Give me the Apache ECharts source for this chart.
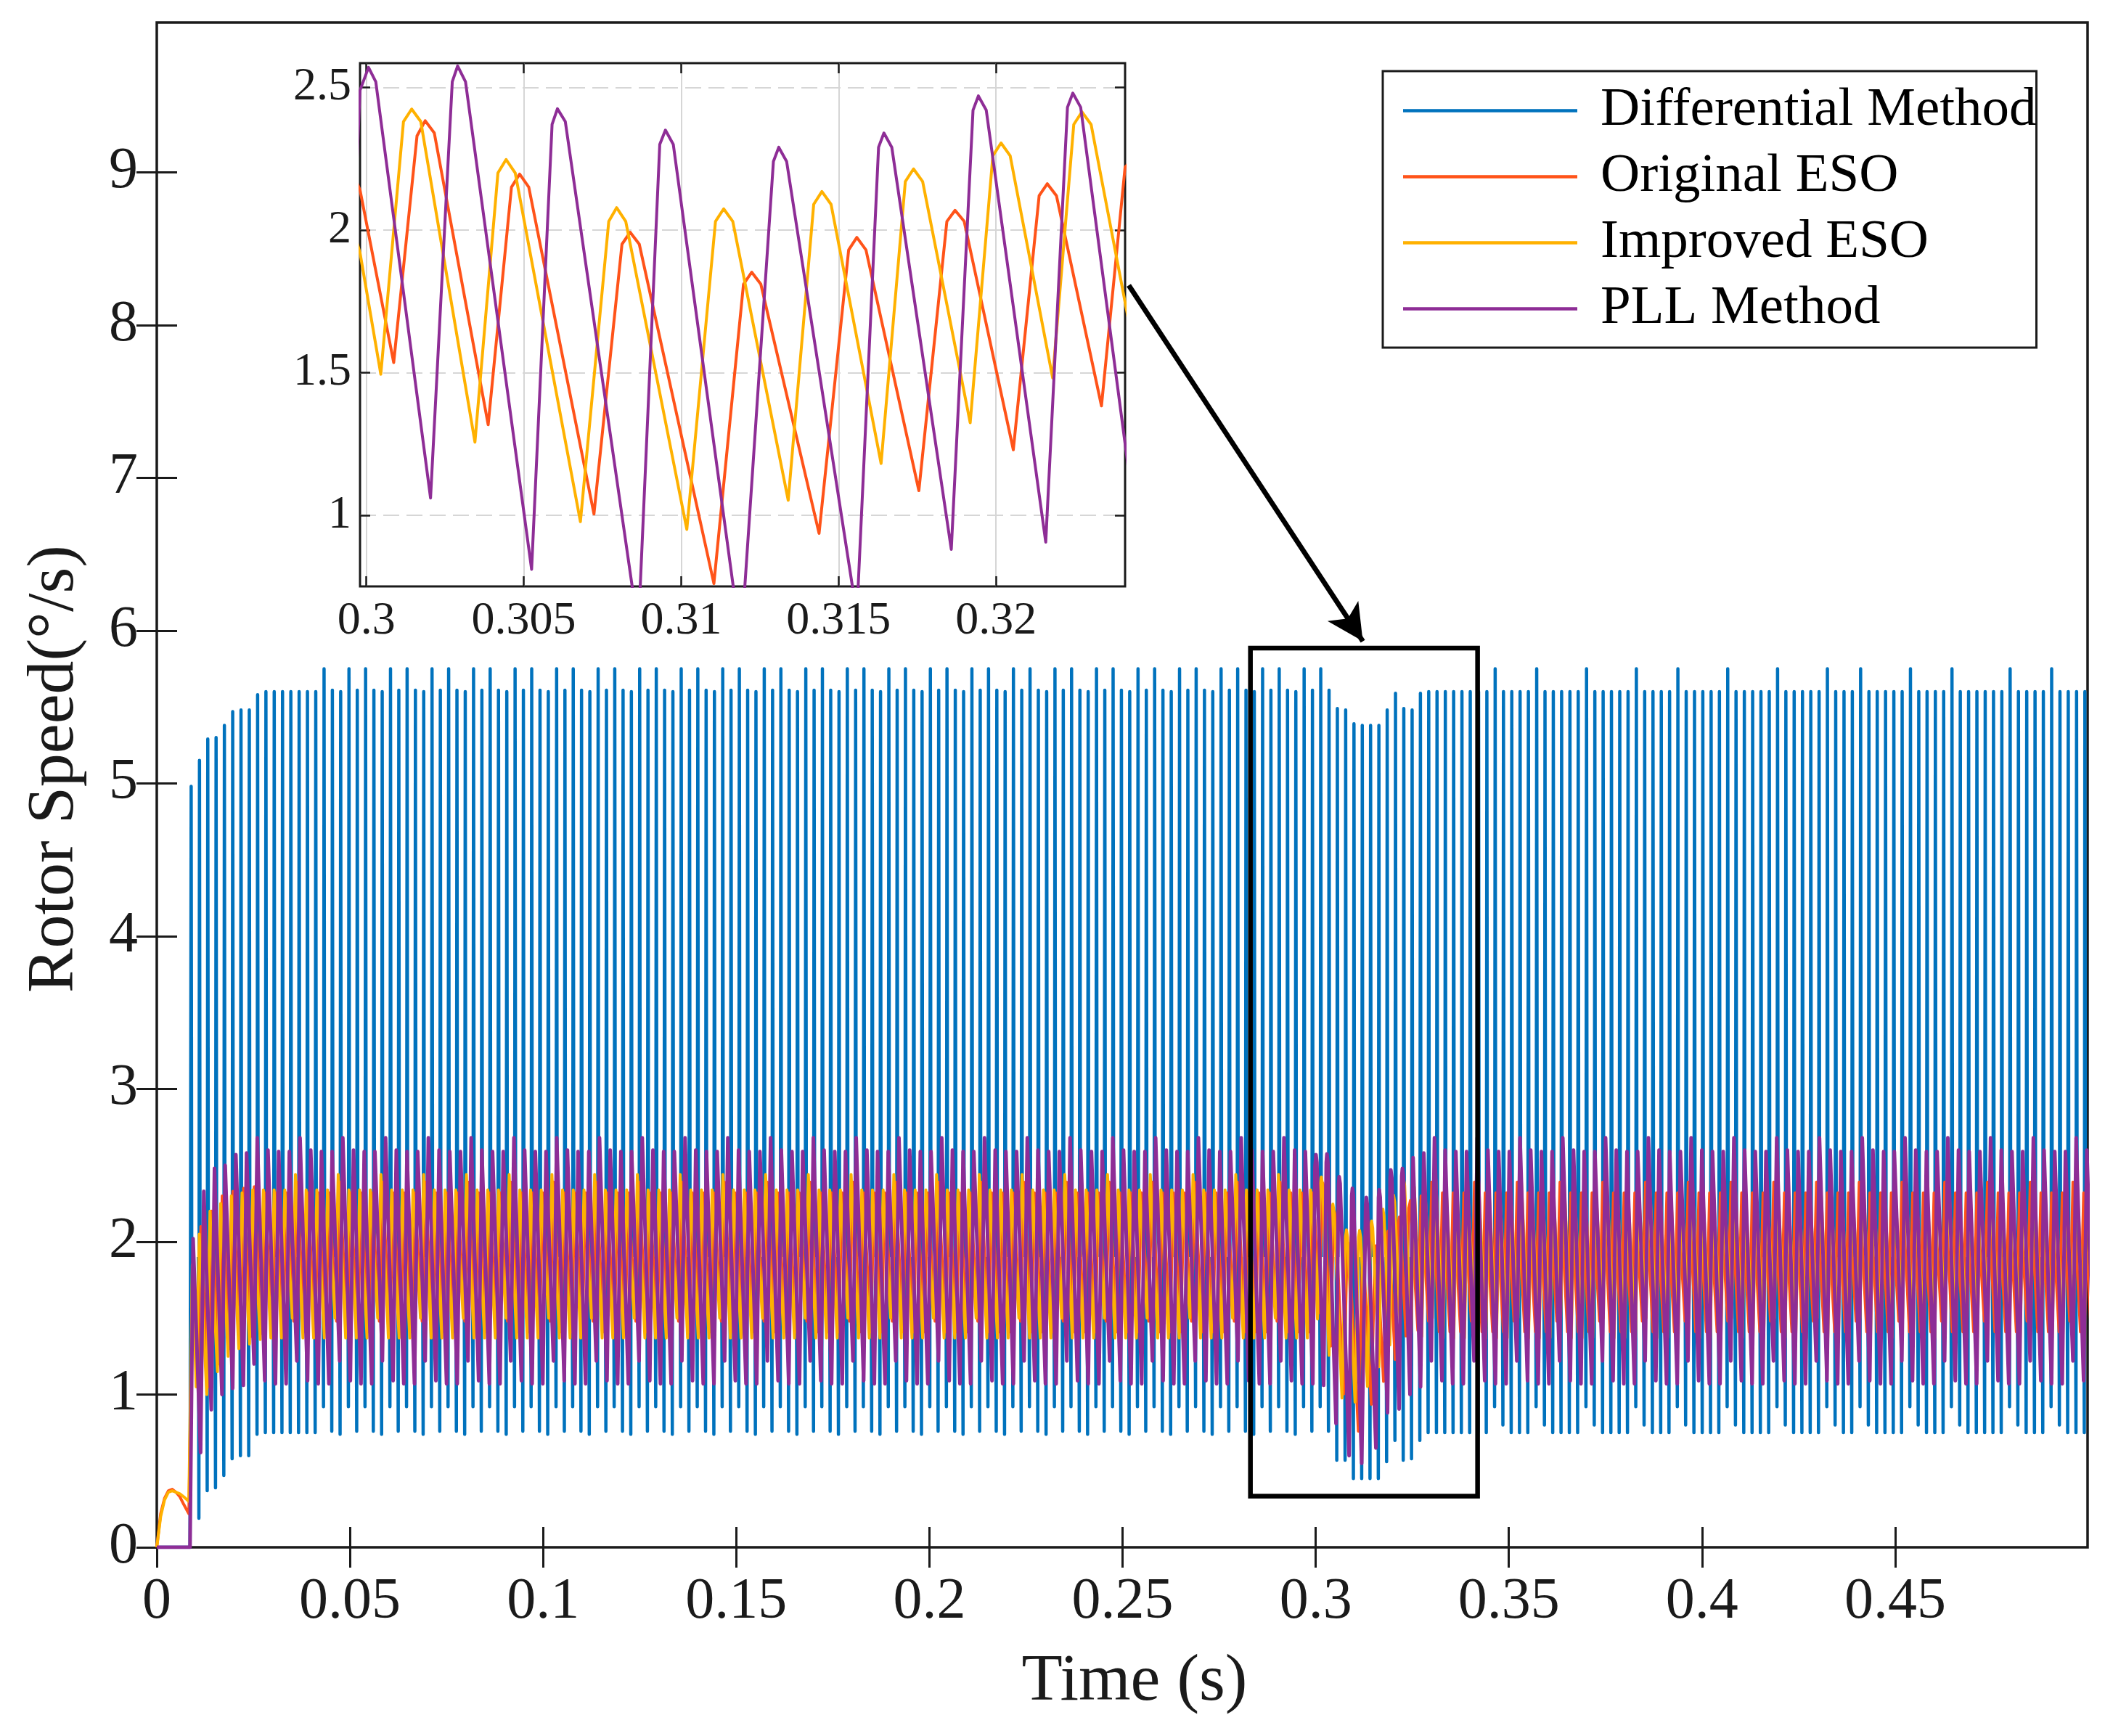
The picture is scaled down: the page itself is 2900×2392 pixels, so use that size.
<!DOCTYPE html>
<html>
<head>
<meta charset="utf-8">
<title>Rotor Speed</title>
<script src="https://cdn.jsdelivr.net/npm/echarts@6.0.0/dist/echarts.min.js"></script>
<style>
  html, body { margin: 0; padding: 0; background: #fff; }
  #chart { width: 2900px; height: 2392px; }
</style>
</head>
<body>
<div id="chart"></div>
<script>
// ---- data ----
const seriesNames = ['Differential Method', 'Original ESO', 'Improved ESO', 'PLL Method'];

const xTicks = [0, 0.05, 0.1, 0.15, 0.2, 0.25, 0.3, 0.35, 0.4, 0.45];
const yTicks = [0, 1, 2, 3, 4, 5, 6, 7, 8, 9];
const insetXTicks = [0.3, 0.305, 0.31, 0.315, 0.32];
const insetYTicks = [1, 1.5, 2, 2.5];

// Differential method: one narrow down/up spike per period, starting and ending inside the band
const blueT0 = 0.0086, bluePeriod = 0.00215, blueStep = 0.00015, blueRest = 1.9;
const bluePeaks = [
  4.98, 5.15, 5.29, 5.30, 5.38, 5.47, 5.48, 5.48, 5.58, 5.60, 5.60, 5.60, 5.60, 5.60, 5.60, 5.60,
  5.75, 5.61, 5.60, 5.75, 5.61, 5.75, 5.61, 5.60, 5.75, 5.61, 5.75, 5.61, 5.60, 5.75, 5.61, 5.75, 5.61, 5.60, 5.75, 5.61,
  5.75, 5.61, 5.60, 5.75, 5.61, 5.75, 5.61, 5.60, 5.75, 5.61, 5.75, 5.61, 5.60, 5.75, 5.61, 5.75, 5.61, 5.60, 5.75, 5.61,
  5.75, 5.61, 5.60, 5.75, 5.61, 5.75, 5.61, 5.60, 5.75, 5.61, 5.75, 5.61, 5.60, 5.75, 5.61, 5.75, 5.61, 5.60, 5.75, 5.61,
  5.75, 5.61, 5.60, 5.75, 5.61, 5.75, 5.61, 5.60, 5.75, 5.61, 5.75, 5.61, 5.60, 5.75, 5.61, 5.75, 5.61, 5.60, 5.75, 5.61,
  5.75, 5.61, 5.60, 5.75, 5.61, 5.75, 5.61, 5.60, 5.75, 5.61, 5.75, 5.61, 5.60, 5.75, 5.61, 5.75, 5.61, 5.60, 5.75, 5.61,
  5.75, 5.61, 5.60, 5.75, 5.61, 5.75, 5.61, 5.60, 5.75, 5.61, 5.75, 5.61, 5.60, 5.75, 5.61, 5.75, 5.61, 5.60, 5.75, 5.61,
  5.75, 5.61,
  5.49, 5.48, 5.39, 5.38, 5.38, 5.38, 5.48, 5.59, 5.49, 5.48, 5.59,
  5.60, 5.60, 5.60, 5.60, 5.60, 5.60, 5.60, 5.60, 5.75, 5.60, 5.60, 5.60, 5.60, 5.75,
  5.60, 5.60, 5.60, 5.60, 5.60, 5.75, 5.60, 5.60, 5.60, 5.60, 5.60, 5.75,
  5.60, 5.60, 5.60, 5.60, 5.75, 5.60, 5.60, 5.60, 5.60, 5.60, 5.75,
  5.60, 5.60, 5.60, 5.60, 5.60, 5.75, 5.60, 5.60, 5.60, 5.60, 5.60, 5.75,
  5.60, 5.60, 5.60, 5.75, 5.60, 5.60, 5.60, 5.60, 5.60, 5.75,
  5.60, 5.60, 5.60, 5.60, 5.75, 5.60, 5.60, 5.60, 5.60, 5.60, 5.60, 5.75,
  5.60, 5.60, 5.60, 5.60, 5.75, 5.60, 5.60, 5.60, 5.60
];
const blueTroughs = [
  0.00, 0.19, 0.37, 0.39, 0.47, 0.58, 0.60, 0.60, 0.74, 0.75, 0.75, 0.75, 0.75, 0.75, 0.75, 0.75,
  0.92, 0.76, 0.74, 0.92, 0.76, 0.92, 0.76, 0.74, 0.92, 0.76, 0.92, 0.76, 0.74, 0.92, 0.76, 0.92, 0.76, 0.74, 0.92, 0.76,
  0.92, 0.76, 0.74, 0.92, 0.76, 0.92, 0.76, 0.74, 0.92, 0.76, 0.92, 0.76, 0.74, 0.92, 0.76, 0.92, 0.76, 0.74, 0.92, 0.76,
  0.92, 0.76, 0.74, 0.92, 0.76, 0.92, 0.76, 0.74, 0.92, 0.76, 0.92, 0.76, 0.74, 0.92, 0.76, 0.92, 0.76, 0.74, 0.92, 0.76,
  0.92, 0.76, 0.74, 0.92, 0.76, 0.92, 0.76, 0.74, 0.92, 0.76, 0.92, 0.76, 0.74, 0.92, 0.76, 0.92, 0.76, 0.74, 0.92, 0.76,
  0.92, 0.76, 0.74, 0.92, 0.76, 0.92, 0.76, 0.74, 0.92, 0.76, 0.92, 0.76, 0.74, 0.92, 0.76, 0.92, 0.76, 0.74, 0.92, 0.76,
  0.92, 0.76, 0.74, 0.92, 0.76, 0.92, 0.76, 0.74, 0.92, 0.76, 0.92, 0.76, 0.74, 0.92, 0.76, 0.92, 0.76, 0.74, 0.92, 0.76,
  0.92, 0.76,
  0.57, 0.57, 0.45, 0.45, 0.45, 0.45, 0.56, 0.70, 0.57, 0.58, 0.70,
  0.75, 0.75, 0.75, 0.75, 0.75, 0.75, 0.75, 0.75, 0.92, 0.80, 0.75, 0.75, 0.75, 0.92,
  0.80, 0.75, 0.75, 0.75, 0.75, 0.92, 0.80, 0.75, 0.75, 0.75, 0.75, 0.92,
  0.80, 0.75, 0.75, 0.75, 0.92, 0.80, 0.75, 0.75, 0.75, 0.75, 0.92,
  0.80, 0.75, 0.75, 0.75, 0.75, 0.92, 0.80, 0.75, 0.75, 0.75, 0.75, 0.92,
  0.80, 0.75, 0.75, 0.92, 0.80, 0.75, 0.75, 0.75, 0.75, 0.92,
  0.80, 0.75, 0.75, 0.75, 0.92, 0.80, 0.75, 0.75, 0.75, 0.75, 0.75, 0.92,
  0.80, 0.75, 0.75, 0.75, 0.92, 0.80, 0.75, 0.75, 0.75
];

// PLL method: start-up, steady cycles before the disturbance, zoomed part, cycles after
const purpleStart = [[0, 0], [0.0086, 0]];
const purpleT0 = 0.0094, purplePeriod = 0.0027684;
const purplePeaksA = [
  2.02, 2.33, 2.48, 2.50, 2.57, 2.58,
  2.68, 2.60, 2.59, 2.59, 2.68, 2.60, 2.59, 2.59, 2.68, 2.60, 2.59, 2.59, 2.68, 2.60, 2.59, 2.59,
  2.68, 2.60, 2.59, 2.59, 2.68, 2.60, 2.59, 2.59, 2.68, 2.60, 2.59, 2.59, 2.68, 2.60, 2.59, 2.59,
  2.68, 2.60, 2.59, 2.59, 2.68, 2.60, 2.59, 2.59, 2.68, 2.60, 2.59, 2.59, 2.68, 2.60, 2.59, 2.59,
  2.68, 2.60, 2.59, 2.59, 2.68, 2.60, 2.59, 2.59, 2.68, 2.60, 2.59, 2.59, 2.68, 2.60, 2.59, 2.59,
  2.68, 2.60, 2.59, 2.59, 2.68, 2.60, 2.59, 2.59, 2.68, 2.60, 2.59, 2.59, 2.68, 2.60, 2.59, 2.59,
  2.68, 2.60, 2.59, 2.59, 2.68, 2.60, 2.59, 2.59, 2.68, 2.60, 2.59, 2.59, 2.68, 2.60, 2.59, 2.59,
  2.68, 2.60, 2.59
];
const purpleTroughsA = [
  0.62, 0.90, 1.00, 1.04, 1.06, 1.20,
  1.09, 1.07, 1.07, 1.22, 1.09, 1.07, 1.07, 1.22, 1.09, 1.07, 1.07, 1.22, 1.09, 1.07, 1.07, 1.22,
  1.09, 1.07, 1.07, 1.22, 1.09, 1.07, 1.07, 1.22, 1.09, 1.07, 1.07, 1.22, 1.09, 1.07, 1.07, 1.22,
  1.09, 1.07, 1.07, 1.22, 1.09, 1.07, 1.07, 1.22, 1.09, 1.07, 1.07, 1.22, 1.09, 1.07, 1.07, 1.22,
  1.09, 1.07, 1.07, 1.22, 1.09, 1.07, 1.07, 1.22, 1.09, 1.07, 1.07, 1.22, 1.09, 1.07, 1.07, 1.22,
  1.09, 1.07, 1.07, 1.22, 1.09, 1.07, 1.07, 1.22, 1.09, 1.07, 1.07, 1.22, 1.09, 1.07, 1.07, 1.22,
  1.09, 1.07, 1.07, 1.22, 1.09, 1.07, 1.07, 1.22, 1.09, 1.07, 1.07, 1.22, 1.09, 1.07, 1.07, 1.22,
  1.09, 1.07, 1.07
];
const purpleZoom = [
  [0.2998, 2.49], [0.30007, 2.57], [0.30030, 2.52], [0.30204, 1.06],
  [0.30273, 2.52], [0.30290, 2.575], [0.30315, 2.52], [0.30525, 0.81],
  [0.30590, 2.37], [0.30607, 2.425], [0.30632, 2.38], [0.30864, 0.60],
  [0.30932, 2.30], [0.30950, 2.35], [0.30975, 2.30], [0.31190, 0.55],
  [0.31293, 2.24], [0.31310, 2.29], [0.31335, 2.24], [0.31558, 0.65],
  [0.31627, 2.29], [0.31644, 2.34], [0.31669, 2.29], [0.31858, 0.88],
  [0.31927, 2.42], [0.31944, 2.47], [0.31969, 2.42], [0.32158, 0.905],
  [0.32227, 2.43], [0.32244, 2.48], [0.32269, 2.43], [0.32440, 1.00]
];
const purpleT1 = 0.3252;
const purplePeaksB = [
  2.55, 2.58,
  2.68, 2.60, 2.59, 2.59, 2.68, 2.60, 2.59, 2.59, 2.68, 2.60, 2.59, 2.59, 2.68, 2.60, 2.59, 2.59,
  2.68, 2.60, 2.59, 2.59, 2.68, 2.60, 2.59, 2.59, 2.68, 2.60, 2.59, 2.59, 2.68, 2.60, 2.59, 2.59,
  2.68, 2.60, 2.59, 2.59, 2.68, 2.60, 2.59, 2.59, 2.68, 2.60, 2.59, 2.59, 2.68, 2.60, 2.59, 2.59,
  2.68, 2.60, 2.59, 2.59, 2.68, 2.60, 2.59, 2.59, 2.68, 2.60, 2.59, 2.59,
  2.68, 2.60
];
const purpleTroughsB = [
  1.05, 1.22,
  1.09, 1.07, 1.07, 1.22, 1.09, 1.07, 1.07, 1.22, 1.09, 1.07, 1.07, 1.22, 1.09, 1.07, 1.07, 1.22,
  1.09, 1.07, 1.07, 1.22, 1.09, 1.07, 1.07, 1.22, 1.09, 1.07, 1.07, 1.22, 1.09, 1.07, 1.07, 1.22,
  1.09, 1.07, 1.07, 1.22, 1.09, 1.07, 1.07, 1.22, 1.09, 1.07, 1.07, 1.22, 1.09, 1.07, 1.07, 1.22,
  1.09, 1.07, 1.07, 1.22, 1.09, 1.07, 1.07, 1.22, 1.09, 1.07, 1.07, 1.22,
  1.09, 1.07
];

// Improved ESO
const yellowStart = [
  [0, 0], [0.001, 0.20], [0.002, 0.31], [0.003, 0.36], [0.004, 0.37], [0.005, 0.36],
  [0.006, 0.35], [0.007, 0.33], [0.0083, 0.30], [0.0092, 1.85], [0.0102, 1.05]
];
const yellowT0 = 0.0110, yellowPeriod = 0.002766;
const yellowPeaksA = [
  2.05, 2.20, 2.25, 2.30, 2.32, 2.34,
  2.34, 2.34, 2.34, 2.44, 2.34, 2.34, 2.34, 2.44, 2.34, 2.34, 2.34, 2.44, 2.34, 2.34, 2.34, 2.44,
  2.34, 2.34, 2.34, 2.44, 2.34, 2.34, 2.34, 2.44, 2.34, 2.34, 2.34, 2.44, 2.34, 2.34, 2.34, 2.44,
  2.34, 2.34, 2.34, 2.44, 2.34, 2.34, 2.34, 2.44, 2.34, 2.34, 2.34, 2.44, 2.34, 2.34, 2.34, 2.44,
  2.34, 2.34, 2.34, 2.44, 2.34, 2.34, 2.34, 2.44, 2.34, 2.34, 2.34, 2.44, 2.34, 2.34, 2.34, 2.44,
  2.34, 2.34, 2.34, 2.44, 2.34, 2.34, 2.34, 2.44, 2.34, 2.34, 2.34, 2.44, 2.34, 2.34, 2.34, 2.44,
  2.34, 2.34, 2.34, 2.44, 2.34, 2.34, 2.34, 2.44, 2.34, 2.34, 2.34, 2.44, 2.34, 2.34, 2.34, 2.44,
  2.34, 2.34, 2.34
];
const yellowTroughsA = [
  1.00, 1.15, 1.25, 1.30, 1.33, 1.36,
  1.37, 1.37, 1.50, 1.37, 1.37, 1.37, 1.50, 1.37, 1.37, 1.37, 1.50, 1.37, 1.37, 1.37, 1.50, 1.37,
  1.37, 1.37, 1.50, 1.37, 1.37, 1.37, 1.50, 1.37, 1.37, 1.37, 1.50, 1.37, 1.37, 1.37, 1.50, 1.37,
  1.37, 1.37, 1.50, 1.37, 1.37, 1.37, 1.50, 1.37, 1.37, 1.37, 1.50, 1.37, 1.37, 1.37, 1.50, 1.37,
  1.37, 1.37, 1.50, 1.37, 1.37, 1.37, 1.50, 1.37, 1.37, 1.37, 1.50, 1.37, 1.37, 1.37, 1.50, 1.37,
  1.37, 1.37, 1.50, 1.37, 1.37, 1.37, 1.50, 1.37, 1.37, 1.37, 1.50, 1.37, 1.37, 1.37, 1.50, 1.37,
  1.37, 1.37, 1.50, 1.37, 1.37, 1.37, 1.50, 1.37, 1.37, 1.37, 1.50, 1.37, 1.37, 1.37, 1.50, 1.37,
  1.37, 1.37
];
const yellowZoom = [
  [0.2998, 1.92], [0.30046, 1.494],
  [0.30118, 2.38], [0.30144, 2.424], [0.30173, 2.38], [0.30345, 1.256],
  [0.30418, 2.20], [0.30444, 2.247], [0.30473, 2.20], [0.30680, 0.977],
  [0.30770, 2.03], [0.30795, 2.078], [0.30824, 2.03], [0.31018, 0.95],
  [0.31109, 2.03], [0.31135, 2.074], [0.31164, 2.03], [0.31340, 1.052],
  [0.31421, 2.09], [0.31447, 2.135], [0.31476, 2.09], [0.31635, 1.181],
  [0.31712, 2.17], [0.31738, 2.214], [0.31767, 2.17], [0.31918, 1.324],
  [0.31990, 2.26], [0.32016, 2.305], [0.32045, 2.26], [0.32180, 1.481],
  [0.32247, 2.37], [0.32273, 2.414], [0.32302, 2.37], [0.32470, 1.40]
];
const yellowT1 = 0.3255;
const yellowPeaksB = [
  2.36, 2.34,
  2.44, 2.34, 2.34, 2.34, 2.44, 2.34, 2.34, 2.34, 2.44, 2.34, 2.34, 2.34, 2.44, 2.34, 2.34, 2.34,
  2.44, 2.34, 2.34, 2.34, 2.44, 2.34, 2.34, 2.34, 2.44, 2.34, 2.34, 2.34, 2.44, 2.34, 2.34, 2.34,
  2.44, 2.34, 2.34, 2.34, 2.44, 2.34, 2.34, 2.34, 2.44, 2.34, 2.34, 2.34, 2.44, 2.34, 2.34, 2.34,
  2.44, 2.34, 2.34, 2.34, 2.44, 2.34, 2.34, 2.34, 2.44, 2.34, 2.34, 2.34,
  2.44, 2.34
];
const yellowTroughsB = [
  1.38, 1.50,
  1.37, 1.37, 1.37, 1.50, 1.37, 1.37, 1.37, 1.50, 1.37, 1.37, 1.37, 1.50, 1.37, 1.37, 1.37, 1.50,
  1.37, 1.37, 1.37, 1.50, 1.37, 1.37, 1.37, 1.50, 1.37, 1.37, 1.37, 1.50, 1.37, 1.37, 1.37, 1.50,
  1.37, 1.37, 1.37, 1.50, 1.37, 1.37, 1.37, 1.50, 1.37, 1.37, 1.37, 1.50, 1.37, 1.37, 1.37, 1.50,
  1.37, 1.37, 1.37, 1.50, 1.37, 1.37, 1.37, 1.50, 1.37, 1.37, 1.37, 1.50,
  1.37, 1.37
];

// Original ESO
const orangeStart = [
  [0, 0], [0.001, 0.22], [0.002, 0.32], [0.003, 0.37], [0.004, 0.38], [0.005, 0.36],
  [0.006, 0.33], [0.007, 0.28], [0.0083, 0.22], [0.0093, 1.80], [0.0106, 1.10]
];
const orangeT0 = 0.0114, orangePeriod = 0.0027664;
const orangePeaksA = [
  2.10, 2.20, 2.30, 2.33, 2.35, 2.36,
  2.32, 2.32, 2.32, 2.39, 2.32, 2.32, 2.32, 2.39, 2.32, 2.32, 2.32, 2.39, 2.32, 2.32, 2.32, 2.39,
  2.32, 2.32, 2.32, 2.39, 2.32, 2.32, 2.32, 2.39, 2.32, 2.32, 2.32, 2.39, 2.32, 2.32, 2.32, 2.39,
  2.32, 2.32, 2.32, 2.39, 2.32, 2.32, 2.32, 2.39, 2.32, 2.32, 2.32, 2.39, 2.32, 2.32, 2.32, 2.39,
  2.32, 2.32, 2.32, 2.39, 2.32, 2.32, 2.32, 2.39, 2.32, 2.32, 2.32, 2.39, 2.32, 2.32, 2.32, 2.39,
  2.32, 2.32, 2.32, 2.39, 2.32, 2.32, 2.32, 2.39, 2.32, 2.32, 2.32, 2.39, 2.32, 2.32, 2.32, 2.39,
  2.32, 2.32, 2.32, 2.39, 2.32, 2.32, 2.32, 2.39, 2.32, 2.32, 2.32, 2.39, 2.32, 2.32, 2.32, 2.39,
  2.32, 2.32, 2.32
];
const orangeTroughsA = [
  1.05, 1.20, 1.30, 1.35, 1.38, 1.40,
  1.41, 1.41, 1.48, 1.41, 1.41, 1.41, 1.48, 1.41, 1.41, 1.41, 1.48, 1.41, 1.41, 1.41, 1.48, 1.41,
  1.41, 1.41, 1.48, 1.41, 1.41, 1.41, 1.48, 1.41, 1.41, 1.41, 1.48, 1.41, 1.41, 1.41, 1.48, 1.41,
  1.41, 1.41, 1.48, 1.41, 1.41, 1.41, 1.48, 1.41, 1.41, 1.41, 1.48, 1.41, 1.41, 1.41, 1.48, 1.41,
  1.41, 1.41, 1.48, 1.41, 1.41, 1.41, 1.48, 1.41, 1.41, 1.41, 1.48, 1.41, 1.41, 1.41, 1.48, 1.41,
  1.41, 1.41, 1.48, 1.41, 1.41, 1.41, 1.48, 1.41, 1.41, 1.41, 1.48, 1.41, 1.41, 1.41, 1.48, 1.41,
  1.41, 1.41, 1.48, 1.41, 1.41, 1.41, 1.48, 1.41, 1.41, 1.41, 1.48, 1.41, 1.41, 1.41, 1.48, 1.41,
  1.41, 1.41
];
const orangeZoom = [
  [0.2998, 2.14], [0.30087, 1.535],
  [0.30161, 2.33], [0.30187, 2.383], [0.30216, 2.34], [0.30387, 1.317],
  [0.30461, 2.15], [0.30487, 2.196], [0.30516, 2.15], [0.30723, 1.004],
  [0.30812, 1.95], [0.30838, 1.992], [0.30867, 1.95], [0.31104, 0.76],
  [0.31198, 1.81], [0.31224, 1.852], [0.31253, 1.81], [0.31438, 0.936],
  [0.31532, 1.93], [0.31558, 1.974], [0.31587, 1.93], [0.31755, 1.086],
  [0.31844, 2.03], [0.31870, 2.069], [0.31899, 2.03], [0.32055, 1.229],
  [0.32137, 2.12], [0.32163, 2.162], [0.32192, 2.12], [0.32335, 1.383],
  [0.32410, 2.22]
];
const orangeT1 = 0.3245;
const orangePeaksB = [
  2.27, 2.30,
  2.39, 2.32, 2.32, 2.32, 2.39, 2.32, 2.32, 2.32, 2.39, 2.32, 2.32, 2.32, 2.39, 2.32, 2.32, 2.32,
  2.39, 2.32, 2.32, 2.32, 2.39, 2.32, 2.32, 2.32, 2.39, 2.32, 2.32, 2.32, 2.39, 2.32, 2.32, 2.32,
  2.39, 2.32, 2.32, 2.32, 2.39, 2.32, 2.32, 2.32, 2.39, 2.32, 2.32, 2.32, 2.39, 2.32, 2.32, 2.32,
  2.39, 2.32, 2.32, 2.32, 2.39, 2.32, 2.32, 2.32, 2.39, 2.32, 2.32, 2.32,
  2.39, 2.32
];
const orangeTroughsB = [
  1.42, 1.48,
  1.41, 1.41, 1.41, 1.48, 1.41, 1.41, 1.41, 1.48, 1.41, 1.41, 1.41, 1.48, 1.41, 1.41, 1.41, 1.48,
  1.41, 1.41, 1.41, 1.48, 1.41, 1.41, 1.41, 1.48, 1.41, 1.41, 1.41, 1.48, 1.41, 1.41, 1.41, 1.48,
  1.41, 1.41, 1.41, 1.48, 1.41, 1.41, 1.41, 1.48, 1.41, 1.41, 1.41, 1.48, 1.41, 1.41, 1.41, 1.48,
  1.41, 1.41, 1.41, 1.48, 1.41, 1.41, 1.41, 1.48, 1.41, 1.41, 1.41, 1.48,
  1.41, 1.41
];

// annotation: zoom box and arrow, in main-axis units
const zoomBox = [[0.2831, 0.335], [0.3419, 5.885]];
const arrowLine = [[0.2516, 8.26], [0.3122, 5.93]];

// ---- build point lists ----
function cycles(t0, period, peaks, troughs) {
  // fast rise to each peak, slow fall to the following trough (~70% of the period)
  const pts = [];
  peaks.forEach((p, k) => {
    const t = t0 + k * period;
    pts.push([t, p]);
    if (k < troughs.length) pts.push([t + 0.7 * period, troughs[k]]);
  });
  return pts;
}

function blueLine() {
  // each spike is its own short stroke; '-' breaks the line between spikes
  const pts = [[0, 0]];
  const n = Math.min(bluePeaks.length, blueTroughs.length);
  for (let i = 0; i < n; i++) {
    const t = blueT0 + i * bluePeriod;
    if (i === 0) pts.push([t, 0]);
    else pts.push([t - blueStep, '-'], [t, blueRest]);
    pts.push([t + blueStep, blueTroughs[i]]);
    pts.push([t + 2 * blueStep, bluePeaks[i]]);
    pts.push([t + 3 * blueStep, blueRest]);
  }
  return pts;
}

const blueData = blueLine();
const orangeData = orangeStart
  .concat(cycles(orangeT0, orangePeriod, orangePeaksA, orangeTroughsA))
  .concat(orangeZoom)
  .concat(cycles(orangeT1, orangePeriod, orangePeaksB, orangeTroughsB));
const yellowData = yellowStart
  .concat(cycles(yellowT0, yellowPeriod, yellowPeaksA, yellowTroughsA))
  .concat(yellowZoom)
  .concat(cycles(yellowT1, yellowPeriod, yellowPeaksB, yellowTroughsB));
const purpleData = purpleStart
  .concat(cycles(purpleT0, purplePeriod, purplePeaksA, purpleTroughsA))
  .concat(purpleZoom)
  .concat(cycles(purpleT1, purplePeriod, purplePeaksB, purpleTroughsB));

// ---- chart ----
const FONT = 'Liberation Serif';
const INK = '#1a1a1a';
const COLORS = ['#0072BD', '#FF5319', '#FFB100', '#8E2D96'];
const fmt = v => String(parseFloat(Number(v).toFixed(4)));

function valueAxis(opts) {
  const ticks = opts.ticks;
  return {
    type: 'value',
    gridIndex: opts.grid,
    position: opts.position,
    min: opts.min,
    max: opts.max,
    axisLine: {show: false},
    axisTick: {
      show: true, inside: true, length: opts.tickLen, customValues: ticks,
      lineStyle: {color: INK, width: opts.tickWidth}
    },
    axisLabel: {
      show: !!opts.labels, customValues: ticks, formatter: fmt, margin: opts.margin,
      fontFamily: FONT, fontSize: opts.fontSize, color: INK
    },
    splitLine: opts.split ? {show: true, lineStyle: opts.split} : {show: false},
    name: opts.name,
    nameLocation: 'middle',
    nameGap: opts.nameGap,
    nameTextStyle: {fontFamily: FONT, fontSize: 92, color: INK, padding: opts.namePad}
  };
}

const line = (name, data, color, width, xi, yi, z) => ({
  name: name, type: 'line', data: data,
  xAxisIndex: xi, yAxisIndex: yi,
  showSymbol: false, symbol: 'none', z: z,
  connectNulls: false,
  lineStyle: {color: color, width: width, join: 'round'},
  itemStyle: {color: color},
  emphasis: {disabled: true},
  animation: false
});

const option = {
  backgroundColor: '#fff',
  animation: false,
  grid: [
    {left: 216, top: 31, width: 2660, height: 2101, show: true, borderColor: INK, borderWidth: 3.5,
      backgroundColor: 'transparent', outerBoundsMode: 'none'},
    {left: 496, top: 87, width: 1054, height: 721, show: true, borderColor: INK, borderWidth: 3,
      backgroundColor: '#fff', outerBoundsMode: 'none'}
  ],
  xAxis: [
    valueAxis({grid: 0, position: 'bottom', min: 0, max: 0.4998, ticks: xTicks, labels: true,
      tickLen: 28, tickWidth: 3, margin: 36, fontSize: 80, name: 'Time (s)', nameGap: 140,
      namePad: [0, 0, 0, 34]}),
    valueAxis({grid: 0, position: 'top', min: 0, max: 0.4998, ticks: xTicks, tickLen: 28, tickWidth: 3}),
    valueAxis({grid: 1, position: 'bottom', min: 0.2998, max: 0.3241, ticks: insetXTicks, labels: true,
      tickLen: 14, tickWidth: 2.5, margin: 16, fontSize: 64,
      split: {color: '#d6d6d6', width: 2, type: 'solid'}}),
    valueAxis({grid: 1, position: 'top', min: 0.2998, max: 0.3241, ticks: insetXTicks, tickLen: 14, tickWidth: 2.5})
  ],
  yAxis: [
    valueAxis({grid: 0, position: 'left', min: 0, max: 9.98, ticks: yTicks, labels: true,
      tickLen: 28, tickWidth: 3, margin: 26, fontSize: 80, name: 'Rotor Speed(°/s)', nameGap: 94,
      namePad: [0, 0, 0, 44]}),
    valueAxis({grid: 0, position: 'right', min: 0, max: 9.98, ticks: yTicks, tickLen: 28, tickWidth: 3}),
    valueAxis({grid: 1, position: 'left', min: 0.75, max: 2.585, ticks: insetYTicks, labels: true,
      tickLen: 14, tickWidth: 2.5, margin: 12, fontSize: 64,
      split: {color: '#d6d6d6', width: 2, type: [22, 10]}}),
    valueAxis({grid: 1, position: 'right', min: 0.75, max: 2.585, ticks: insetYTicks, tickLen: 14, tickWidth: 2.5})
  ],
  legend: {
    data: seriesNames.map((n, i) => ({name: n, icon: 'rect', itemStyle: {color: COLORS[i]}})),
    orient: 'vertical',
    left: 1905, top: 98,
    padding: [17, 0, 16, 28],
    itemGap: 16,
    itemWidth: 240, itemHeight: 4.5,
    backgroundColor: '#fff',
    borderColor: INK, borderWidth: 3, borderRadius: 0,
    selectedMode: false,
    textStyle: {fontFamily: FONT, fontSize: 75, color: '#000', padding: [0, 0, 0, 27]}
  },
  series: [
    line(seriesNames[0], blueData, COLORS[0], 4.5, 0, 0, 2),
    line(seriesNames[1], orangeData, COLORS[1], 4, 0, 0, 3),
    line(seriesNames[2], yellowData, COLORS[2], 4, 0, 0, 4),
    line(seriesNames[3], purpleData, COLORS[3], 5, 0, 0, 5),
    line(seriesNames[1], orangeData, COLORS[1], 4, 2, 2, 7),
    line(seriesNames[2], yellowData, COLORS[2], 4, 2, 2, 8),
    line(seriesNames[3], purpleData, COLORS[3], 4, 2, 2, 9),
    {
      type: 'line', data: [], xAxisIndex: 0, yAxisIndex: 0, z: 10, silent: true,
      markArea: {
        silent: true, z: 10,
        itemStyle: {color: 'rgba(0,0,0,0)', borderColor: '#000', borderWidth: 6.5},
        data: [[{coord: zoomBox[0]}, {coord: zoomBox[1]}]]
      },
      markLine: {
        silent: true, z: 10,
        symbol: ['none', 'arrow'], symbolSize: [38, 50],
        lineStyle: {color: '#000', width: 7, type: 'solid'},
        label: {show: false},
        data: [[{coord: arrowLine[0]}, {coord: arrowLine[1]}]]
      }
    }
  ]
};

const chart = echarts.init(document.getElementById('chart'), null, {renderer: 'canvas'});
chart.setOption(option);
</script>
</body>
</html>
